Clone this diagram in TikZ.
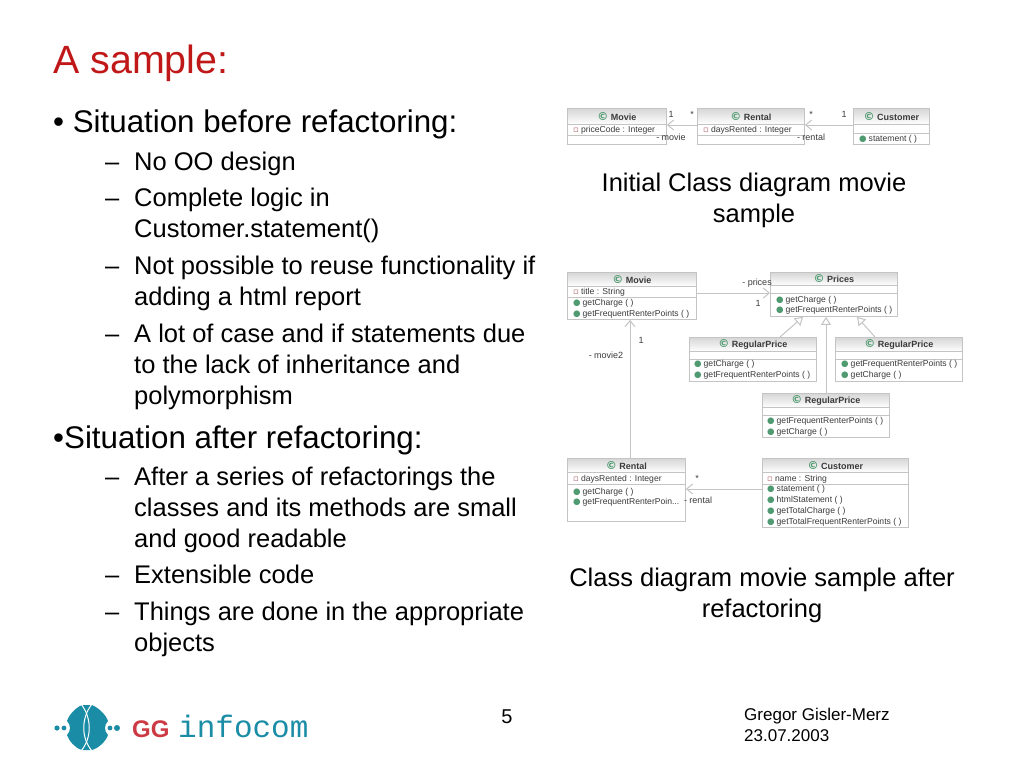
\documentclass[tikz,border=0pt]{standalone}
\usepackage{fontspec}
\setmainfont{Liberation Sans}
\newfontfamily\symfont{DejaVu Sans}
\setmonofont{Liberation Mono}
\usetikzlibrary{arrows.meta,shadows}
\definecolor{titlered}{HTML}{C01818}
\definecolor{logoteal}{HTML}{1A8CA6}
\definecolor{logored}{HTML}{CC3A44}
\definecolor{icongreen}{HTML}{4F9A70}
\definecolor{iconred}{HTML}{B0606A}
\definecolor{umlline}{HTML}{C4C4C4}
\definecolor{umltext}{HTML}{3A3A3A}
\newcommand{\ccirc}{{\symfont\fontsize{11}{11}\selectfont\textcolor{icongreen}{\char"A9}}}
\newcommand{\pubm}{{\symfont\textcolor{icongreen}{\char"25CF}}\hspace{2pt}}
\newcommand{\privm}{{\symfont\textcolor{iconred}{\char"25AB}}\hspace{2pt}}
\tikzset{
  maintext/.style={anchor=north west,inner sep=0pt,align=left,font=\fontsize{31.3}{37}\selectfont},
  subtext/.style={anchor=north west,inner sep=0pt,align=left,font=\fontsize{25.5}{31}\selectfont},
  caption/.style={inner sep=0pt,align=center,font=\fontsize{25.5}{31}\selectfont},
  classbox/.style={draw=umlline,fill=white,anchor=north west,inner sep=0pt,line width=.9pt,
    drop shadow={shadow xshift=1pt,shadow yshift=-1pt,opacity=.25}},
  classhead/.style={top color=black!16,bottom color=white,draw=umlline,anchor=north,inner sep=0pt,line width=.9pt,
    text=umltext,font=\fontsize{9}{10}\selectfont\bfseries},
  member/.style={anchor=west,inner sep=0pt,text=umltext,font=\fontsize{8.6}{10}\selectfont},
  umllabel/.style={inner sep=0pt,text=umltext,font=\fontsize{9}{10}\selectfont},
  sepline/.style={draw=umlline,line width=.9pt},
  assoc/.style={draw=umlline,line width=1pt,-{Straight Barb[length=6pt,width=10pt]}},
  inherit/.style={draw=umlline,line width=1pt,-{Triangle[open,fill=white,length=8pt,width=10pt]}}
}
\begin{document}
\begin{tikzpicture}[x=1pt,y=-1pt]
\useasboundingbox (0,0) rectangle (1024,768);
\node[anchor=base west,inner sep=0pt,text=titlered,font=\fontsize{39.4}{45}\selectfont] (title) at (53,74) {A sample:};
\node[maintext] (before) at (53,106) {\strut• Situation before refactoring:};
\node[subtext] (d1) at (105,149) {\strut–};
\node[subtext] (s1) at (134,149) {\strut No OO design};
\node[subtext] (d2) at (105,185) {\strut–};
\node[subtext] (s2) at (134,185) {\strut Complete logic in\\Customer.statement()};
\node[subtext] (d3) at (105,253) {\strut–};
\node[subtext] (s3) at (134,253) {\strut Not possible to reuse functionality if\\adding a html report};
\node[subtext] (d4) at (105,321) {\strut–};
\node[subtext] (s4) at (134,321) {\strut A lot of case and if statements due\\to the lack of inheritance and\\polymorphism};
\node[maintext] (after) at (53,422) {\strut•Situation after refactoring:};
\node[subtext] (d5) at (105,464) {\strut–};
\node[subtext] (s5) at (134,464) {\strut After a series of refactorings the\\classes and its methods are small\\and good readable};
\node[subtext] (d6) at (105,562) {\strut–};
\node[subtext] (s6) at (134,562) {\strut Extensible code};
\node[subtext] (d7) at (105,599) {\strut–};
\node[subtext] (s7) at (134,599) {\strut Things are done in the appropriate\\objects};
\node[caption] (cap1) at (754,200) {Initial Class diagram movie\\sample};
\node[caption] (cap2) at (762,595) {Class diagram movie sample after\\refactoring};

\node[classbox,minimum width=99pt,minimum height=36pt] (movie1) at (567,108) {};
\node[classhead,minimum width=99pt,minimum height=16pt] (movie1h) at (movie1.north) {\ccirc\ Movie};
\draw[sepline] (567,135) -- (666,135);
\node[member] (movie1a) at (573,130) {\privm priceCode : Integer};
\node[classbox,minimum width=107pt,minimum height=36pt] (rental1) at (697,108) {};
\node[classhead,minimum width=107pt,minimum height=16pt] (rental1h) at (rental1.north) {\ccirc\ Rental};
\draw[sepline] (697,135) -- (804,135);
\node[member] (rental1a) at (703,130) {\privm daysRented : Integer};
\node[classbox,minimum width=76pt,minimum height=36pt] (customer1) at (853,108) {};
\node[classhead,minimum width=76pt,minimum height=16pt] (customer1h) at (customer1.north) {\ccirc\ Customer};
\draw[sepline] (853,133) -- (929,133);
\node[member] (customer1m) at (859,139) {\pubm statement ( )};
\draw[assoc] (rental1.west |- 0,125) -- (movie1.east |- 0,125);
\draw[assoc] (customer1.west |- 0,125) -- (rental1.east |- 0,125);
\node[umllabel] (l1) at (671,114) {1};
\node[umllabel] (l2) at (692,114) {*};
\node[umllabel] (l3) at (671,137) {- movie};
\node[umllabel] (l4) at (811,114) {*};
\node[umllabel] (l5) at (844,114) {1};
\node[umllabel] (l6) at (811,137) {- rental};

\node[classbox,minimum width=129pt,minimum height=47pt] (movie2) at (567,272) {};
\node[classhead,minimum width=129pt,minimum height=14pt] (movie2h) at (movie2.north) {\ccirc\ Movie};
\draw[sepline] (567,297) -- (696,297);
\node[member] (movie2a) at (573,292) {\privm title : String};
\node[member] (movie2m) at (573,303) {\pubm getCharge ( )};
\node[member] (movie2n) at (573,314) {\pubm getFrequentRenterPoints ( )};
\node[classbox,minimum width=127pt,minimum height=44pt] (prices) at (770,272) {};
\node[classhead,minimum width=127pt,minimum height=13pt] (pricesh) at (prices.north) {\ccirc\ Prices};
\draw[sepline] (770,293) -- (897,293);
\node[member] (pricesm) at (776,300) {\pubm getCharge ( )};
\node[member] (pricesn) at (776,310) {\pubm getFrequentRenterPoints ( )};
\node[classbox,minimum width=127pt,minimum height=44pt] (regular1) at (689,337) {};
\node[classhead,minimum width=127pt,minimum height=14pt] (regular1h) at (regular1.north) {\ccirc\ RegularPrice};
\draw[sepline] (689,359) -- (816,359);
\node[member] (regular1m) at (694,364) {\pubm getCharge ( )};
\node[member] (regular1n) at (694,375) {\pubm getFrequentRenterPoints ( )};
\node[classbox,minimum width=127pt,minimum height=44pt] (regular2) at (835,337) {};
\node[classhead,minimum width=127pt,minimum height=14pt] (regular2h) at (regular2.north) {\ccirc\ RegularPrice};
\draw[sepline] (835,359) -- (962,359);
\node[member] (regular2m) at (841,364) {\pubm getFrequentRenterPoints ( )};
\node[member] (regular2n) at (841,375) {\pubm getCharge ( )};
\node[classbox,minimum width=127pt,minimum height=44pt] (regular3) at (762,393) {};
\node[classhead,minimum width=127pt,minimum height=14pt] (regular3h) at (regular3.north) {\ccirc\ RegularPrice};
\draw[sepline] (762,415) -- (889,415);
\node[member] (regular3m) at (767,421) {\pubm getFrequentRenterPoints ( )};
\node[member] (regular3n) at (767,432) {\pubm getCharge ( )};
\node[classbox,minimum width=118pt,minimum height=63pt] (rental2) at (567,458) {};
\node[classhead,minimum width=118pt,minimum height=14pt] (rental2h) at (rental2.north) {\ccirc\ Rental};
\draw[sepline] (567,484) -- (685,484);
\node[member] (rental2a) at (573,479) {\privm daysRented : Integer};
\node[member] (rental2m) at (573,492) {\pubm getCharge ( )};
\node[member] (rental2n) at (573,502) {\pubm getFrequentRenterPoin...};
\node[classbox,minimum width=146pt,minimum height=69pt] (customer2) at (762,458) {};
\node[classhead,minimum width=146pt,minimum height=14pt] (customer2h) at (customer2.north) {\ccirc\ Customer};
\draw[sepline] (762,484) -- (908,484);
\node[member] (customer2a) at (767,479) {\privm name : String};
\node[member] (customer2m) at (767,489) {\pubm statement ( )};
\node[member] (customer2n) at (767,500) {\pubm htmlStatement ( )};
\node[member] (customer2o) at (767,511) {\pubm getTotalCharge ( )};
\node[member] (customer2p) at (767,522) {\pubm getTotalFrequentRenterPoints ( )};
\draw[assoc] (movie2.east |- 0,293) -- (prices.west |- 0,293);
\draw[assoc] (rental2.north -| 630,0) -- (movie2.south -| 630,0);
\draw[assoc] (customer2.west |- 0,489) -- (rental2.east |- 0,489);
\draw[inherit] (regular1.north -| 780,0) -- (prices.south -| 803,0);
\draw[inherit] (regular2.north -| 875,0) -- (prices.south -| 857,0);
\draw[inherit] (regular3.north -| 826,0) -- (prices.south -| 826,0);
\node[umllabel] (l7) at (757,283) {- prices};
\node[umllabel] (l8) at (758,303) {1};
\node[umllabel] (l9) at (641,340) {1};
\node[umllabel] (l10) at (606,355) {- movie2};
\node[umllabel] (l11) at (697,478) {*};
\node[umllabel] (l12) at (698,500) {- rental};

\fill[logoteal] (82,705) -- (92,705) .. controls (99,708) and (106,715) .. (108,721) .. controls (104,725) and (104,731) .. (108,735) .. controls (106,741) and (99,748) .. (92,750) -- (82,750) .. controls (75,748) and (69,741) .. (67,735) .. controls (71,731) and (71,725) .. (67,721) .. controls (69,715) and (75,708) .. (82,705) -- cycle;
\draw[white,line width=1pt] (81,704) .. controls (92,718) and (92,738) .. (81,751);
\draw[white,line width=1pt] (92,704) .. controls (81,718) and (81,738) .. (92,751);
\fill[logoteal] (57,728) circle (2.6);
\fill[logoteal] (64,728) circle (2.4);
\fill[logoteal] (110,728) circle (2.4);
\fill[logoteal] (117,728) circle (3);
\node[anchor=base west,inner sep=0pt,text=logored,font=\fontsize{24}{30}\selectfont\bfseries] (gg) at (132,737) {GG};
\node[anchor=base west,inner sep=0pt,text=logoteal,font=\fontsize{31}{33}\selectfont\ttfamily] (infocom) at (178,737) {infocom};
\node[inner sep=0pt,font=\fontsize{20}{24}\selectfont] (page) at (507,717) {5};
\node[anchor=north west,inner sep=0pt,align=left,font=\fontsize{17}{21}\selectfont] (footer) at (744,706) {\strut Gregor Gisler-Merz\\23.07.2003};
\end{tikzpicture}
\end{document}
